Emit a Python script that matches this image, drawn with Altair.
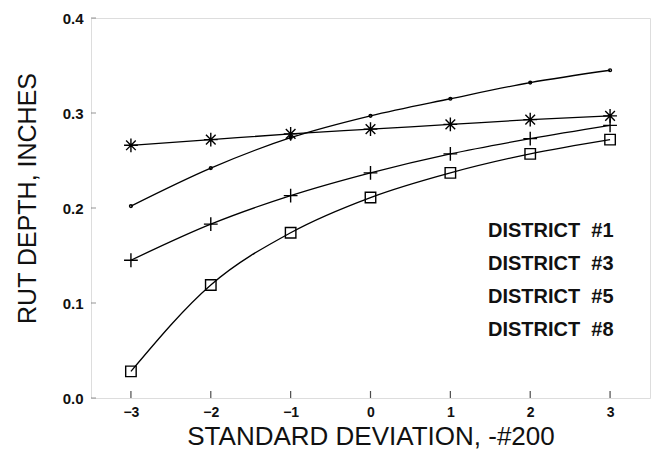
import altair as alt
import pandas as pd

x_vals = [-3, -2, -1, 0, 1, 2, 3]
districts = ["DISTRICT\u00a0\u00a0#1", "DISTRICT\u00a0\u00a0#3", "DISTRICT\u00a0\u00a0#5", "DISTRICT\u00a0\u00a0#8"]
d1 = [0.266, 0.272, 0.278, 0.283, 0.288, 0.293, 0.297]   # asterisk
d3 = [0.202, 0.242, 0.274, 0.297, 0.315, 0.332, 0.345]   # dots
d5 = [0.145, 0.183, 0.213, 0.237, 0.257, 0.273, 0.287]   # plus
d8 = [0.028, 0.119, 0.174, 0.211, 0.237, 0.257, 0.272]   # squares
marker_sizes = [190, 8, 190, 110]
y_ticks = [0.0, 0.1, 0.2, 0.3, 0.4]

rows = []
for name, vals, ms in zip(districts, [d1, d3, d5, d8], marker_sizes):
    for xv, yv in zip(x_vals, vals):
        rows.append({"sd": xv, "rut": yv, "district": name, "msize": ms})
df = pd.DataFrame(rows)
ticks_x = pd.DataFrame({"t": x_vals})
ticks_y = pd.DataFrame({"t": y_ticks})

FONT = "Liberation Sans"
xscale = alt.Scale(domain=[-3.5, 3.5], nice=False, zero=False)
yscale = alt.Scale(domain=[0, 0.4], nice=False)

asterisk = "M-1,0L1,0M0,-1L0,1M-0.7,-0.7L0.7,0.7M-0.7,0.7L0.7,-0.7"
plus = "M-1,0L1,0M0,-1L0,1"

xaxis = alt.Axis(values=x_vals, format="d", title="STANDARD DEVIATION, -#200",
                 tickSize=0, labelPadding=7, grid=False, domain=False,
                 labelFont=FONT, labelFontWeight="bold", labelFontSize=14, labelColor="#111",
                 titleFont=FONT, titleFontWeight="normal", titleFontSize=26, titleColor="#111",
                 titlePadding=4)
yaxis = alt.Axis(values=y_ticks, format=".1f", title="RUT DEPTH, INCHES",
                 tickSize=0, labelPadding=8, grid=False, domain=False,
                 labelFont=FONT, labelFontWeight="bold", labelFontSize=15, labelColor="#111",
                 titleFont=FONT, titleFontWeight="normal", titleFontSize=25, titleColor="#111",
                 titlePadding=22, titleY=180)

lines = alt.Chart(df).mark_line(color="black", strokeWidth=1.3, interpolate="monotone").encode(
    x=alt.X("sd:Q", scale=xscale, axis=xaxis),
    y=alt.Y("rut:Q", scale=yscale, axis=yaxis),
    detail="district:N",
)

points = alt.Chart(df).mark_point(color="black", filled=False, strokeWidth=1.4, opacity=1).encode(
    x=alt.X("sd:Q", scale=xscale),
    y=alt.Y("rut:Q", scale=yscale),
    shape=alt.Shape("district:N",
                    scale=alt.Scale(domain=districts, range=[asterisk, "circle", plus, "square"]),
                    legend=alt.Legend(title=None, orient="none", legendX=377, legendY=203,
                                      symbolOpacity=0, symbolSize=1, symbolStrokeWidth=0,
                                      labelFont=FONT, labelFontWeight="bold", labelFontSize=20,
                                      labelColor="#111", labelLimit=0, labelOffset=0,
                                      rowPadding=13, padding=0)),
    size=alt.Size("msize:Q", scale=None),
)

xt = alt.Chart(ticks_x).mark_tick(color="black", size=7, thickness=1.2, yOffset=-3.5).encode(
    x=alt.X("t:Q", scale=xscale), y=alt.datum(0, scale=yscale))
yt = alt.Chart(ticks_y).mark_tick(color="#666", size=5, thickness=1, xOffset=2.5, orient="horizontal").encode(
    y=alt.Y("t:Q", scale=yscale), x=alt.datum(-3.5, scale=xscale))

chart = alt.layer(lines, points, xt, yt).properties(
    width=559, height=380,
    autosize=alt.AutoSizeParams(type="none"),
    padding={"left": 83, "top": 10, "right": 5, "bottom": 52},
).configure_view(stroke="black", strokeWidth=1.6).configure(background="white")

chart.save("out.html", embed_options={"renderer": "svg", "actions": False})
